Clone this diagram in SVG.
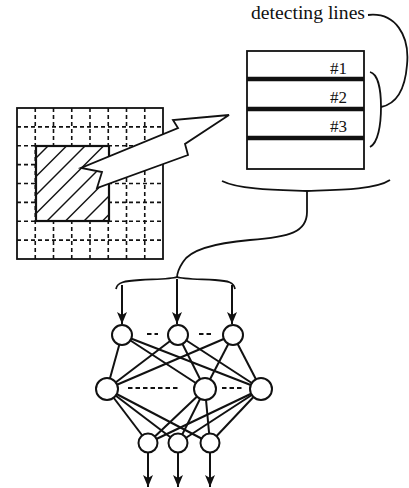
<svg xmlns="http://www.w3.org/2000/svg" width="409" height="488" viewBox="0 0 409 488">
<style>
.ln{fill:none;stroke:#111;stroke-width:1.8}
.dash{fill:none;stroke:#111;stroke-width:1.6;stroke-dasharray:4 3}
.thick{stroke:#111;stroke-width:4.4}
.net{stroke:#111;stroke-width:2}
.node{fill:#fff;stroke:#111;stroke-width:2}
.lbl{font-family:"Liberation Serif","Times New Roman",serif;fill:#111}
.dots{stroke:#111;stroke-width:2.2;stroke-dasharray:4.5 3}
</style>
<defs>
<marker id="ah" viewBox="0 0 12 10" refX="12" refY="5" markerWidth="12" markerHeight="11" markerUnits="userSpaceOnUse" orient="auto">
<path d="M0,0 L12,5 L0,10 L3,5 z" fill="#111"/>
</marker>
<clipPath id="hc"><rect x="36" y="146" width="73" height="75"/></clipPath>
</defs>
<rect width="409" height="488" fill="#fff"/>

<g id="grid">
<rect x="17" y="108" width="146" height="151" fill="#fff" stroke="#111" stroke-width="1.8"/>
<path class="dash" d="M35.25,108V259M53.5,108V259M71.75,108V259M90,108V259M108.25,108V259M126.5,108V259M144.75,108V259"/>
<path class="dash" d="M17,126.9H163M17,145.75H163M17,164.6H163M17,183.5H163M17,202.4H163M17,221.25H163M17,240.1H163"/>
</g>

<g id="region">
<rect x="36" y="146" width="73" height="75" fill="#fff"/>
<g clip-path="url(#hc)" stroke="#111" stroke-width="1.4">
<line x1="-45.5" y1="221" x2="29.5" y2="146"/>
<line x1="-27" y1="221" x2="48" y2="146"/>
<line x1="-8.5" y1="221" x2="66.5" y2="146"/>
<line x1="10" y1="221" x2="85" y2="146"/>
<line x1="28.5" y1="221" x2="103.5" y2="146"/>
<line x1="47" y1="221" x2="122" y2="146"/>
<line x1="65.5" y1="221" x2="140.5" y2="146"/>
<line x1="84" y1="221" x2="159" y2="146"/>
<line x1="102.5" y1="221" x2="177.5" y2="146"/>
</g>
<rect x="36" y="146" width="73" height="75" fill="none" stroke="#111" stroke-width="2.2"/>
</g>

<g id="big-arrow">
<polygon points="229,115 173,120 178,128 81,168 102,172 97,188 188,155 185,144" fill="#fff" stroke="#111" stroke-width="1.8" stroke-linejoin="miter"/>
</g>

<g id="detector">
<rect x="247" y="51" width="117" height="118" fill="#fff" stroke="#111" stroke-width="1.8"/>
<line class="thick" x1="247" y1="79" x2="364" y2="79"/>
<line class="thick" x1="247" y1="109" x2="364" y2="109"/>
<line class="thick" x1="247" y1="138" x2="364" y2="138"/>
<text class="lbl" x="347" y="74" font-size="17" text-anchor="end">#1</text>
<text class="lbl" x="347" y="103" font-size="17" text-anchor="end">#2</text>
<text class="lbl" x="347" y="132" font-size="17" text-anchor="end">#3</text>
</g>

<g id="label">
<text class="lbl" x="251" y="19" font-size="18" textLength="114" lengthAdjust="spacingAndGlyphs">detecting lines</text>
</g>

<g id="connectors">
<path class="ln" d="M368,15 C395,12 410,35 407,65 C405,90 396,104 381,107"/>
<path class="ln" d="M370,72 C378,74 381,90 381,107 C381,125 378,143 370,147"/>
<path class="ln" d="M222,181 C240,190 280,190 307,191 C335,190 375,190 390,180"/>
<path class="ln" d="M307,191 L307,212 C307,232 290,237 250,240 C215,243 190,250 183,262 C179,268 177,272 177,278"/>
<path class="ln" d="M116,289 C117,282 125,281 140,280 C160,279 172,279 177,277 C182,279 195,279 215,280 C228,281 234,282 235,289"/>
<line class="net" x1="122" y1="285" x2="122" y2="324" marker-end="url(#ah)"/>
<line class="net" x1="177" y1="279" x2="177" y2="324" marker-end="url(#ah)"/>
<line class="net" x1="232" y1="285" x2="232" y2="324" marker-end="url(#ah)"/>
<g class="net">
<line x1="122" y1="335" x2="107" y2="389"/><line x1="122" y1="335" x2="205" y2="389"/><line x1="122" y1="335" x2="261" y2="389"/>
<line x1="178" y1="335" x2="107" y2="389"/><line x1="178" y1="335" x2="205" y2="389"/><line x1="178" y1="335" x2="261" y2="389"/>
<line x1="233" y1="335" x2="107" y2="389"/><line x1="233" y1="335" x2="205" y2="389"/><line x1="233" y1="335" x2="261" y2="389"/>
<line x1="107" y1="389" x2="148" y2="443"/><line x1="107" y1="389" x2="178" y2="443"/><line x1="107" y1="389" x2="210" y2="443"/>
<line x1="205" y1="389" x2="148" y2="443"/><line x1="205" y1="389" x2="178" y2="443"/><line x1="205" y1="389" x2="210" y2="443"/>
<line x1="261" y1="389" x2="148" y2="443"/><line x1="261" y1="389" x2="178" y2="443"/><line x1="261" y1="389" x2="210" y2="443"/>
</g>
<line class="net" x1="148" y1="452" x2="148" y2="487" marker-end="url(#ah)"/>
<line class="net" x1="178" y1="452" x2="178" y2="487" marker-end="url(#ah)"/>
<line class="net" x1="210" y1="452" x2="210" y2="487" marker-end="url(#ah)"/>
</g>

<g id="input-layer">
<circle class="node" cx="122" cy="335" r="10"/>
<circle class="node" cx="178" cy="335" r="10"/>
<circle class="node" cx="233" cy="335" r="10"/>
<line class="dots" x1="147" y1="334" x2="158" y2="334"/>
<line class="dots" x1="199" y1="334" x2="211" y2="334"/>
</g>
<g id="hidden-layer">
<circle class="node" cx="107" cy="389" r="11"/>
<circle class="node" cx="205" cy="389" r="11"/>
<circle class="node" cx="261" cy="389" r="11"/>
<line class="dots" x1="128" y1="388" x2="180" y2="388"/>
<line class="dots" x1="222" y1="388" x2="243" y2="388"/>
</g>
<g id="output-layer">
<circle class="node" cx="148" cy="443" r="9.5"/>
<circle class="node" cx="178" cy="443" r="9.5"/>
<circle class="node" cx="210" cy="443" r="9.5"/>
</g>
</svg>
